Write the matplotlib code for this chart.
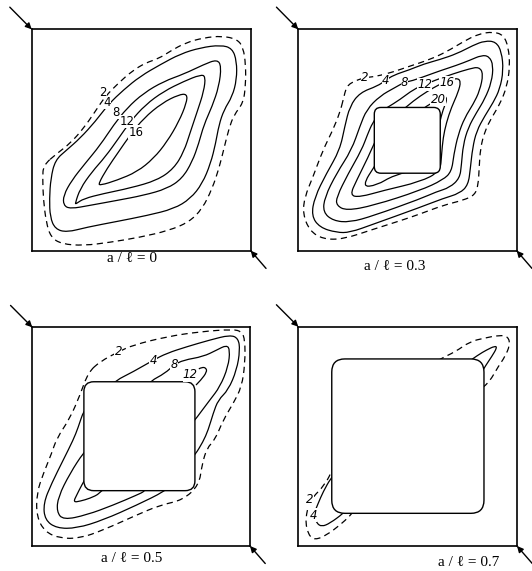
import matplotlib
matplotlib.use("Agg")
import matplotlib.pyplot as plt
from matplotlib.path import Path
from matplotlib.patches import PathPatch, FancyBboxPatch

# Contour lines, in percent of the plate side
# (u from the left edge, v from the bottom edge). Level 2 is dashed.

# ---- a/l = 0 ----
p1_c2 = [(5.3, 38.6), (11.5, 43.9), (17.6, 48.5), (23.7, 55.3), (29.0, 62.9), (33.6, 69.7),
         (39.7, 75.8), (45.8, 81.1), (51.9, 84.8), (58.0, 86.8), (63.4, 90.2), (70.2, 93.9),
         (78.6, 96.2), (87.0, 97.0), (93.9, 95.5), (96.6, 91.7), (97.7, 84.1), (97.7, 75.0),
         (96.6, 66.7), (92.4, 61.4), (90.1, 55.3), (87.8, 46.2), (85.5, 37.1), (82.4, 28.0),
         (77.9, 18.9), (71.8, 12.9), (62.6, 9.1), (49.6, 6.1), (35.9, 3.8), (23.7, 2.3),
         (13.7, 3.0), (8.7, 6.1), (6.6, 12.9), (5.3, 23.5), (5.0, 32.6)]
p1_c4 = [(10.7, 40.9), (16.0, 45.5), (22.1, 50.8), (29.0, 58.3), (35.1, 66.2), (42.0, 72.7),
         (49.6, 78.8), (58.8, 84.1), (67.9, 88.9), (77.1, 91.7), (86.3, 92.9), (91.6, 91.4),
         (93.6, 85.6), (93.6, 77.3), (91.6, 69.7), (87.8, 63.6), (85.5, 56.8), (84.0, 48.5),
         (81.7, 39.4), (77.9, 30.3), (72.5, 23.5), (64.9, 18.9), (52.7, 15.9), (38.9, 13.2),
         (25.2, 10.6), (16.0, 8.3), (10.7, 9.8), (8.4, 15.2), (8.1, 23.5), (8.7, 32.6)]
p1_c8 = [(14.5, 25.0), (18.3, 31.8), (24.4, 39.4), (31.3, 47.7), (37.4, 56.8), (43.5, 64.4),
         (51.1, 71.2), (60.3, 76.5), (69.5, 79.8), (78.6, 84.1), (84.7, 86.4), (86.6, 83.3),
         (85.5, 74.2), (82.4, 65.2), (78.6, 56.8), (76.3, 48.5), (73.3, 40.2), (68.7, 32.6),
         (61.8, 28.0), (51.1, 25.0), (38.9, 22.7), (26.7, 20.5), (17.6, 18.9), (14.5, 20.5)]
p1_c12 = [(19.8, 21.2), (22.1, 28.0), (27.5, 35.6), (33.6, 42.4), (39.7, 50.8), (45.0, 58.3),
          (51.9, 65.9), (60.3, 72.0), (69.5, 76.5), (77.1, 79.5), (79.4, 78.8), (78.6, 72.0),
          (75.6, 62.9), (72.5, 53.8), (69.5, 44.7), (64.9, 37.1), (57.3, 31.8), (45.0, 28.3),
          (32.8, 25.8), (23.7, 23.5), (20.3, 21.2)]
p1_c16 = [(30.5, 30.3), (34.4, 37.1), (39.7, 44.7), (45.0, 52.3), (51.1, 59.8), (59.5, 66.7),
          (67.2, 70.5), (71.0, 70.8), (70.7, 66.7), (67.2, 58.3), (61.8, 49.2), (55.7, 41.7),
          (48.1, 35.6), (38.9, 31.8), (31.3, 29.5)]
p1_labels = ["2", "4", "8", "12", "16"]
p1_label_pos = [(32.6, 71.6), (34.6, 66.9), (38.6, 62.4), (43.4, 58.2), (47.6, 53.6)]

# ---- a/l = 0.3 ----
p2_hole = (34.8, 35.0, 30.2, 29.7)
p2_c2 = [(19.0, 62.3), (20.6, 68.3), (22.1, 74.4), (25.9, 76.7), (30.5, 78.2), (35.6, 78.7),
         (43.3, 80.7), (50.9, 83.3), (60.1, 86.3), (67.8, 89.8), (75.5, 94.4), (82.4, 97.9),
         (89.3, 98.9), (93.9, 97.4), (96.2, 92.1), (96.9, 83.0), (95.4, 73.8), (92.3, 66.2),
         (88.5, 60.1), (85.4, 54.0), (83.4, 46.4), (82.8, 37.3), (82.4, 29.7), (80.8, 25.1),
         (75.5, 22.8), (66.3, 20.5), (55.8, 16.6), (46.6, 13.5), (34.4, 9.7), (20.6, 5.2),
         (11.3, 5.2), (5.2, 9.0), (2.1, 16.6), (2.9, 24.2), (6.7, 33.3), (11.3, 45.5), (15.6, 54.0)]
p2_c4 = [(39.9, 76.9), (43.6, 79.3), (50.9, 81.7), (57.4, 84.3), (64.7, 86.3), (72.7, 89.0),
         (80.1, 92.8), (85.4, 94.8), (90.5, 94.4), (93.1, 89.8), (93.9, 81.4), (92.3, 73.1),
         (89.3, 67.0), (85.4, 60.9), (81.6, 54.0), (79.8, 46.4), (78.8, 37.3), (77.8, 29.7),
         (73.9, 25.9), (66.3, 23.6), (55.8, 19.6), (34.4, 12.0), (23.6, 8.2), (17.5, 8.2),
         (9.8, 10.5), (6.0, 15.8), (7.5, 24.2), (12.9, 34.9), (19.0, 45.5), (21.3, 56.2),
         (23.6, 65.3), (28.2, 71.4), (36.3, 74.4)]
p2_c8 = [(48.6, 76.1), (52.0, 76.7), (58.6, 79.0), (65.0, 81.3), (72.4, 83.7), (78.5, 86.0),
         (83.9, 88.3), (87.4, 87.8), (89.3, 83.7), (88.5, 76.1), (85.4, 68.5), (81.6, 62.4),
         (77.8, 55.6), (75.5, 47.9), (74.7, 38.8), (73.9, 32.7), (69.3, 28.5), (63.2, 26.6),
         (55.8, 23.4), (34.4, 15.8), (23.6, 12.8), (16.0, 13.5), (11.3, 17.4), (12.1, 24.2),
         (17.5, 34.9), (24.4, 45.5), (28.2, 56.2), (31.3, 63.8), (37.4, 69.9), (44.3, 73.7)]
p2_c12 = [(57.8, 75.0), (62.4, 76.9), (70.9, 79.9), (78.5, 82.2), (82.8, 83.0), (84.7, 79.9),
          (83.1, 72.3), (80.1, 66.2), (76.2, 60.1), (73.2, 52.5), (71.2, 43.4), (70.2, 35.8),
          (66.3, 32.0), (55.8, 27.2), (34.4, 20.4), (22.1, 18.1), (17.5, 20.4), (17.5, 24.2),
          (22.9, 34.9), (29.0, 45.5), (31.7, 52.5), (34.0, 57.8), (37.9, 63.2), (40.5, 64.5),
          (46.6, 68.3), (52.8, 72.9)]
p2_c16 = [(66.6, 76.0), (72.4, 78.1), (74.5, 76.6), (73.2, 71.5), (70.1, 64.7), (67.8, 57.8),
          (66.3, 51.0), (65.6, 43.4), (65.0, 35.8), (55.8, 31.1), (39.0, 27.2), (28.2, 24.2),
          (23.6, 25.0), (26.7, 31.8), (32.1, 42.5), (34.8, 48.7), (38.7, 55.6), (49.7, 65.3),
          (55.8, 69.9), (62.0, 73.7)]
p2_c20 = [(57.4, 64.5), (60.4, 66.2), (64.0, 68.5), (67.0, 70.0), (68.1, 68.5), (67.0, 65.4),
          (65.6, 61.6), (63.2, 51.0), (57.1, 37.3), (43.6, 34.1), (35.9, 29.5), (29.0, 28.8),
          (35.6, 39.4), (44.8, 52.5)]
p2_labels = ["2", "4", "8", "12", "16", "20"]
p2_label_pos = [(30.5, 78.2), (39.9, 76.9), (48.6, 76.1), (57.8, 75.0), (68.1, 76.1), (64.0, 68.5)]

# ---- a/l = 0.5 ----
p3_hole = (23.7, 25.3, 51.0, 49.8)
p3_c2 = [(31.1, 84.3), (25.7, 79.4), (21.9, 69.0), (17.3, 58.4), (11.2, 49.2), (8.9, 42.4),
         (5.1, 33.2), (2.0, 24.1), (2.0, 13.4), (5.8, 6.5), (12.7, 3.5), (21.9, 3.5), (32.6, 7.3),
         (48.0, 14.2), (58.7, 18.7), (69.2, 21.0), (76.6, 27.9), (77.9, 37.0), (80.2, 44.8),
         (83.9, 48.5), (87.7, 57.6), (92.3, 65.2), (96.2, 72.8), (97.7, 83.5), (97.7, 94.2),
         (96.2, 98.0), (92.3, 99.1), (77.0, 98.0), (61.7, 95.7), (46.4, 91.9), (39.5, 88.8)]
p3_c4_top = [(37.0, 74.0), (38.0, 75.5), (46.4, 79.7), (55.6, 85.0), (61.7, 88.1), (70.9, 91.1),
             (81.6, 94.2), (90.8, 96.5), (94.6, 95.0), (95.4, 89.6), (93.9, 80.5), (90.0, 71.3),
             (85.4, 66.8), (83.1, 60.7), (80.8, 53.0), (78.4, 47.6), (74.7, 41.6), (73.5, 40.5)]
p3_c4_bot = [(25.0, 63.0), (23.7, 62.2), (21.0, 54.0), (18.8, 48.5), (14.2, 39.3), (8.9, 28.7),
             (5.1, 19.5), (5.8, 11.9), (11.2, 8.1), (20.4, 8.1), (32.6, 11.9), (48.0, 18.7),
             (61.0, 25.1), (62.0, 26.5)]
p3_c8_top = [(53.5, 74.0), (54.1, 75.3), (61.0, 79.0), (65.1, 82.8), (69.4, 85.0), (78.5, 86.6),
             (84.7, 89.6), (89.3, 91.9), (90.8, 89.6), (90.0, 82.0), (86.2, 72.8), (81.6, 66.8),
             (77.0, 60.7), (74.7, 57.6), (73.5, 56.5)]
p3_c8_bot = [(25.0, 44.0), (23.7, 43.0), (17.3, 33.2), (11.9, 22.5), (11.2, 15.7), (14.2, 11.9),
             (25.0, 14.2), (37.2, 18.7), (48.0, 23.3), (51.8, 25.1), (52.5, 26.5)]
p3_c12_top = [(76.5, 81.0), (78.0, 81.8), (79.8, 81.4), (80.2, 79.6), (77.5, 75.9), (75.2, 73.6)]
p3_c12_bot = [(24.5, 31.0), (22.5, 27.5), (20.5, 23.5), (18.8, 20.0), (22.0, 20.5), (26.5, 21.8),
              (31.1, 24.0), (33.0, 26.5)]
p3_labels = ["2", "4", "8", "12"]
p3_label_pos = [(39.5, 88.8), (55.6, 85.0), (65.1, 82.8), (72.6, 78.2)]

# ---- a/l = 0.7 ----
p4_hole = (15.3, 14.9, 69.6, 70.4)
p4_c2_top = [(64.0, 84.5), (64.8, 85.3), (71.7, 88.5), (78.5, 93.2), (84.6, 94.7), (92.2, 96.2),
             (96.0, 95.4), (96.8, 91.7), (94.5, 86.3), (91.4, 81.8), (88.4, 76.5), (85.8, 73.4),
             (84.0, 72.0)]
p4_c4_top = [(78.5, 84.5), (82.2, 87.1), (86.1, 89.4), (89.9, 91.2), (90.9, 90.5), (88.4, 86.3),
             (85.8, 82.5), (84.0, 79.5)]
p4_c2_bot = [(16.5, 37.0), (16.0, 35.6), (12.2, 27.8), (5.3, 21.0), (3.1, 11.9), (4.6, 5.0),
             (7.6, 2.7), (13.0, 5.0), (19.1, 9.6), (23.6, 13.7), (25.0, 15.5)]
p4_c4_bot = [(16.0, 32.0), (14.9, 31.0), (11.4, 24.8), (9.1, 19.5), (6.9, 14.1), (8.4, 10.4),
             (10.7, 8.8), (14.5, 10.4), (20.6, 14.9), (21.5, 16.0)]
p4_labels = ["2", "4"]
p4_label_pos = [(5.3, 21.0), (6.9, 14.1)]

captions = ["a / \u2113 = 0", "a / \u2113 = 0.3", "a / \u2113 = 0.5", "a / \u2113 = 0.7"]


def smooth(pts, closed):
    # quadratic bezier through the midpoints of the read points
    mid = lambda a, b: ((a[0] + b[0]) / 2, (a[1] + b[1]) / 2)
    if closed:
        ext = pts + pts[:2]
        mids = [mid(a, b) for a, b in zip(ext[:-1], ext[1:])]
        verts, codes = [mids[0]], [Path.MOVETO]
        for i in range(1, len(mids)):
            verts += [ext[i], mids[i]]
            codes += [Path.CURVE3, Path.CURVE3]
    else:
        verts, codes = [pts[0]], [Path.MOVETO]
        n = len(pts)
        for i in range(1, n - 1):
            end = mid(pts[i], pts[i + 1]) if i < n - 2 else pts[-1]
            verts += [pts[i], end]
            codes += [Path.CURVE3, Path.CURVE3]
    return Path(verts, codes)


def draw_panel(ax, curves, labels, label_pos, hole=None, italic=True):
    ax.set_xlim(0, 100)
    ax.set_ylim(0, 100)
    ax.set_xticks([])
    ax.set_yticks([])
    for s in ax.spines.values():
        s.set_linewidth(1.2)
    for pts, dashed, closed in curves:
        ls = (0, (5, 3.5)) if dashed else '-'
        ax.add_patch(PathPatch(smooth(pts, closed), fill=False, lw=0.9,
                               ls=ls, ec='black', zorder=2))
    if hole is not None:
        x, y, w, h, r = hole
        ax.add_patch(FancyBboxPatch((x, y), w, h,
                                    boxstyle="round,pad=0,rounding_size=%g" % r,
                                    fc='white', ec='black', lw=1.0, zorder=3))
    for t, (u, v) in zip(labels, label_pos):
        ax.text(u, v, t, fontsize=8.5, ha='center', va='center',
                style='italic' if italic else 'normal', zorder=4,
                bbox=dict(fc='white', ec='none', pad=0.05))
    # corner loads, pointing at the corners
    arrow = dict(arrowstyle='-|>', lw=1.0, color='black', mutation_scale=9,
                 shrinkA=0, shrinkB=0)
    ax.annotate('', xy=(0, 100), xytext=(-10, 110), annotation_clip=False,
                arrowprops=arrow)
    ax.annotate('', xy=(100, 0), xytext=(107, -8), annotation_clip=False,
                arrowprops=arrow)


W, H = 532, 571
fig = plt.figure(figsize=(W / 100, H / 100), dpi=100)
fig.patch.set_facecolor('white')

ax1 = fig.add_axes([31.7 / W, 1 - 250.7 / H, 219.0 / W, 221.4 / H])
ax2 = fig.add_axes([298.3 / W, 1 - 250.7 / H, 218.4 / W, 221.4 / H])
ax3 = fig.add_axes([32.3 / W, 1 - 546.0 / H, 217.7 / W, 218.7 / H])
ax4 = fig.add_axes([298.3 / W, 1 - 546.0 / H, 218.7 / W, 219.3 / H])

draw_panel(ax1, [(p1_c2, True, True), (p1_c4, False, True), (p1_c8, False, True),
                 (p1_c12, False, True), (p1_c16, False, True)],
           p1_labels, p1_label_pos, italic=False)
draw_panel(ax2, [(p2_c2, True, True), (p2_c4, False, True), (p2_c8, False, True),
                 (p2_c12, False, True), (p2_c16, False, True), (p2_c20, False, True)],
           p2_labels, p2_label_pos, hole=p2_hole + (3.0,))
draw_panel(ax3, [(p3_c2, True, True), (p3_c4_top, False, False), (p3_c4_bot, False, False),
                 (p3_c8_top, False, False), (p3_c8_bot, False, False),
                 (p3_c12_top, False, False), (p3_c12_bot, False, False)],
           p3_labels, p3_label_pos, hole=p3_hole + (4.5,))
draw_panel(ax4, [(p4_c2_top, True, False), (p4_c4_top, False, False),
                 (p4_c2_bot, True, False), (p4_c4_bot, False, False)],
           p4_labels, p4_label_pos, hole=p4_hole + (6.0,))

cap_pos = [(132, 258), (395, 267), (132, 559), (469, 563)]
for txt, (px, py) in zip(captions, cap_pos):
    fig.text(px / W, 1 - py / H, txt, ha='center', va='center', fontsize=11,
             family=['Liberation Serif', 'DejaVu Serif'])

fig.savefig('out.png', dpi=100, facecolor='white')
